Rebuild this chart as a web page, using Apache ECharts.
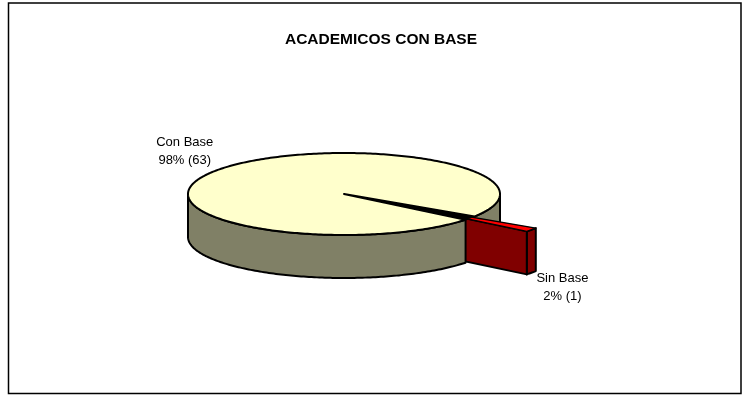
<!DOCTYPE html>
<html>
<head>
<meta charset="utf-8">
<title>ACADEMICOS CON BASE</title>
<script src="https://cdn.jsdelivr.net/npm/echarts@6/dist/echarts.min.js"></script>
<style>
  html, body { margin: 0; padding: 0; background: #ffffff; }
  #chart { width: 743px; height: 395px; }
</style>
</head>
<body>
<div id="chart"></div>
<script>
// ---- data ----
const titleText = 'ACADEMICOS CON BASE';
const categories = ['Con Base', 'Sin Base'];
const values = [63, 1];

// ---- styling per slice ----
const topColors = ['#FFFFCC', '#FF0000'];
const sideColors = ['#808066', '#800000'];
const explodeRatio = [0, 0.485];
const labelShift = [[-33, -18], [31, 15]];

// ---- 3D pie layout (screen angles, clockwise from 3 o'clock) ----
const pie = { cx: 344, cy: 194, rx: 156, ry: 41, depth: 43, startAngle: 38.8 };
const FONT = '"Liberation Sans", Arial, sans-serif';

const total = values.reduce((s, v) => s + v, 0);
const rad = d => d * Math.PI / 180;

function sliceAngles(i) {
  let cum = 0;
  for (let k = 0; k < i; k++) cum += values[k];
  const a = pie.startAngle + 360 * cum / total;
  const b = a + 360 * values[i] / total;
  return [a, b];
}

function explodedIndex() {
  return explodeRatio.findIndex(e => e > 0);
}

function rimPoint(t, ox, oy, dz) {
  return [pie.cx + ox + pie.rx * Math.cos(rad(t)), pie.cy + oy + pie.ry * Math.sin(rad(t)) + dz];
}

function arcPoints(a, b, ox, oy, dz) {
  const n = Math.max(2, Math.ceil(Math.abs(b - a)) + 1);
  const pts = [];
  for (let s = 0; s <= n; s++) pts.push(rimPoint(a + (b - a) * s / n, ox, oy, dz));
  return pts;
}

// parts of [a,b] that face the viewer (lower half of the ellipse)
function frontSegments(a, b) {
  const segs = [];
  for (let k = -1; k <= 2; k++) {
    const lo = Math.max(a, k * 360), hi = Math.min(b, k * 360 + 180);
    if (hi > lo) segs.push([lo, hi]);
  }
  return segs;
}

const edge = { stroke: '#000000', lineWidth: 2, lineJoin: 'round' };

function renderItem(params, api) {
  const i = params.dataIndex;
  const [a, b] = sliceAngles(i);
  const m = (a + b) / 2;
  const ex = explodeRatio[i];
  const ox = ex * pie.rx * Math.cos(rad(m));
  const oy = ex * pie.ry * Math.sin(rad(m));
  const d = pie.depth;
  const children = [];
  const isExploded = ex > 0;

  const ei = explodedIndex();
  const eAng = ei >= 0 ? sliceAngles(ei) : [0, 0];
  const eMidSin = Math.sin(rad((eAng[0] + eAng[1]) / 2));

  // side walls
  frontSegments(a, b).forEach(([lo, hi]) => {
    const pts = arcPoints(lo, hi, ox, oy, 0).concat(arcPoints(hi, lo, ox, oy, d));
    let z2 = 5;
    if (isExploded) z2 = 2;
    else if (ei >= 0 && Math.sin(rad((lo + hi) / 2)) < eMidSin) z2 = 1;
    children.push({
      type: 'polygon', z2: z2,
      shape: { points: pts },
      style: Object.assign({ fill: sideColors[i] }, edge)
    });
  });

  const apexTop = [pie.cx + ox, pie.cy + oy];
  const apexBot = [pie.cx + ox, pie.cy + oy + d];

  if (isExploded) {
    // cut faces of the pulled-out slice
    if (Math.cos(rad(b)) > 0) {
      children.push({
        type: 'polygon', z2: 3,
        shape: { points: [apexTop, rimPoint(b, ox, oy, 0), rimPoint(b, ox, oy, d), apexBot] },
        style: Object.assign({ fill: sideColors[i] }, edge)
      });
    }
    if (Math.cos(rad(a)) < 0) {
      children.push({
        type: 'polygon', z2: 3,
        shape: { points: [apexTop, rimPoint(a, ox, oy, 0), rimPoint(a, ox, oy, d), apexBot] },
        style: Object.assign({ fill: sideColors[i] }, edge)
      });
    }
    // opening left behind in the pie
    children.push({
      type: 'polygon', z2: 6,
      shape: { points: [[pie.cx, pie.cy]].concat(arcPoints(a, b, 0, 0, 0)) },
      style: Object.assign({ fill: '#000000' }, edge, { lineWidth: 1 })
    });
  }

  // top face
  children.push({
    type: 'polygon', z2: isExploded ? 4 : 7,
    shape: { points: [apexTop].concat(arcPoints(a, b, ox, oy, 0)) },
    style: Object.assign({ fill: topColors[i] }, edge, isExploded ? { lineWidth: 1.5 } : {})
  });

  // data label
  const anchor = isExploded ? rimPoint(m, ox, oy, d) : rimPoint(m, ox, oy, 0);
  const pct = Math.round(values[i] / total * 100);
  children.push({
    type: 'text', z2: 10,
    x: anchor[0] + labelShift[i][0],
    y: anchor[1] + labelShift[i][1],
    style: {
      text: categories[i] + '\n' + pct + '% (' + values[i] + ')',
      fill: '#000000',
      font: '13px ' + FONT,
      lineHeight: 18,
      align: 'center',
      verticalAlign: 'middle'
    }
  });

  return { type: 'group', children: children };
}

const chart = echarts.init(document.getElementById('chart'), null, { renderer: 'canvas' });
chart.setOption({
  animation: false,
  backgroundColor: '#ffffff',
  title: {
    text: titleText,
    left: 376,
    top: 27,
    textAlign: 'center',
    textStyle: { fontFamily: FONT, fontSize: 15.5, fontWeight: 'bold', color: '#000000' }
  },
  graphic: [{
    type: 'rect',
    shape: { x: 8.5, y: 3, width: 732.5, height: 390.5 },
    style: { fill: 'none', stroke: '#000000', lineWidth: 1.5 },
    silent: true
  }],
  series: [{
    type: 'custom',
    coordinateSystem: 'none',
    silent: true,
    renderItem: renderItem,
    data: values.map((v, i) => ({ name: categories[i], value: v }))
  }]
});
</script>
</body>
</html>
